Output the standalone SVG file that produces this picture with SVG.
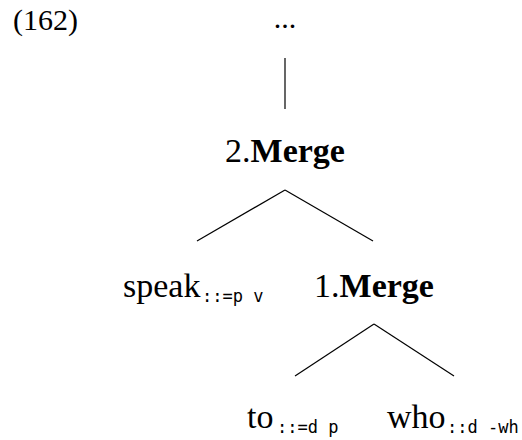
<svg xmlns="http://www.w3.org/2000/svg" width="522" height="440" viewBox="0 0 522 440">
<style>
.t{font-family:"Liberation Serif","Times New Roman",serif;font-size:34px;fill:#000}
.b{font-weight:bold}
.s{font-family:"DejaVu Sans Mono","Liberation Mono",monospace;font-size:17px;fill:#000}
.e{stroke:#000;stroke-width:1.2;fill:none}
</style>
<rect width="522" height="440" fill="#fff"/>
<text id="label" class="t" x="13" y="30" style="font-size:30px">(162)</text>
<g id="top"><text class="t" x="285" y="28" text-anchor="middle" style="font-size:30px">...</text></g>
<g id="merge2"><text class="t" x="285" y="162" text-anchor="middle">2.<tspan class="b">Merge</tspan></text></g>
<g id="speak"><text class="t" x="123" y="297">speak</text><text class="s" x="202" y="302">::=p v</text></g>
<g id="merge1"><text class="t" x="374" y="297" text-anchor="middle">1.<tspan class="b">Merge</tspan></text></g>
<g id="to"><text class="t" x="247" y="428">to</text><text class="s" x="277" y="433">::=d p</text></g>
<g id="who"><text class="t" x="387" y="428">who</text><text class="s" x="447" y="433">::d -wh</text></g>
<g id="connectors">
<line class="e" x1="285" y1="58" x2="285" y2="109"/>
<line class="e" x1="285" y1="190" x2="197" y2="241"/>
<line class="e" x1="285" y1="190" x2="373" y2="241"/>
<line class="e" x1="374" y1="324" x2="295" y2="376"/>
<line class="e" x1="374" y1="324" x2="454" y2="376"/>
</g>
</svg>
